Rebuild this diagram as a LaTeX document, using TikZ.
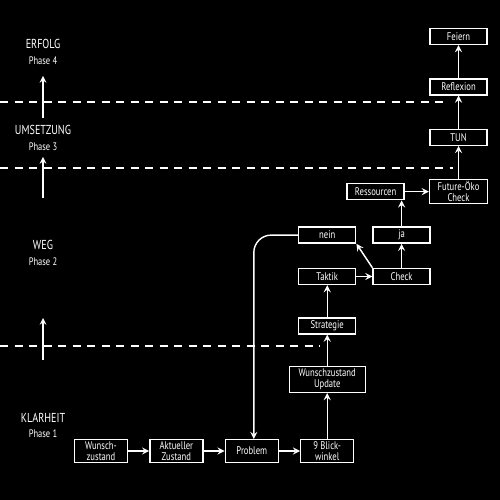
\documentclass[tikz,border=0pt]{standalone}
\usepackage{fontspec}
\usepackage{xcolor}
\usetikzlibrary{arrows, positioning}
\newfontfamily\chalkfont[FakeStretch=0.78]{PT Sans}

\begin{document}
\begin{tikzpicture}[
    node distance=0.42cm,
    stepbox/.style={rectangle, draw=white, line width=0.8pt, text=white, font=\chalkfont\fontsize{6.3}{6.3}\selectfont, minimum width=1.14cm, minimum height=0.32cm, inner sep=1pt, align=center},
    pairbox/.style={stepbox, minimum width=1.06cm, minimum height=0.45cm},
    phase/.style={text=white, font=\chalkfont\fontsize{7.4}{9}\selectfont, align=center},
    arrow/.style={->, >=stealth, line width=0.8pt, white},
    phasearrow/.style={->, >=stealth, line width=0.7pt, white},
    divider/.style={white, line width=0.6pt, dash pattern=on 0.16cm off 0.13cm}
]

\fill[black] (0,0) rectangle (10,-10);
\useasboundingbox (0,0) rectangle (10,-10);

\node[phase] (erfolg) at (0.86,-1.04) {ERFOLG\\{\fontsize{6.2}{6.2}\selectfont Phase 4}};
\node[phase] (umsetzung) at (0.86,-2.76) {UMSETZUNG\\{\fontsize{6.2}{6.2}\selectfont Phase 3}};
\node[phase] (weg) at (0.86,-5.06) {WEG\\{\fontsize{6.2}{6.2}\selectfont Phase 2}};
\node[phase] (klarheit) at (0.86,-8.51) {KLARHEIT\\{\fontsize{6.2}{6.2}\selectfont Phase 1}};

\node[pairbox] (wunsch) at (2.02,-9.02) {Wunsch-\\zustand};
\node[pairbox, right=of wunsch] (aktuell) {Aktueller\\Zustand};
\node[pairbox, right=of aktuell] (problem) {Problem};
\node[pairbox, right=of problem] (blick) {9 Blick-\\winkel};
\node[stepbox, above=0.92cm of blick, minimum width=1.52cm, minimum height=0.52cm] (update) {Wunschzustand\\Update};
\node[stepbox, above=0.62cm of update] (strategie) {Strategie};
\node[stepbox, above=0.64cm of strategie] (taktik) {Taktik};
\node[stepbox, right=0.32cm of taktik] (check) {Check};
\node[stepbox, above=0.48cm of taktik] (nein) {nein};
\node[stepbox, above=0.48cm of check] (ja) {ja};
\node[stepbox, above=0.52cm of ja, xshift=-0.52cm] (ressourcen) {Ressourcen};
\node[stepbox, right=0.48cm of ressourcen, minimum width=1.16cm, minimum height=0.48cm] (future) {Future-Öko\\Check};
\node[stepbox, above=0.66cm of future] (tun) {TUN};
\node[stepbox, above=0.66cm of tun] (reflexion) {Reflexion};
\node[stepbox, above=0.66cm of reflexion] (feiern) {Feiern};

\coordinate (a1) at (0.86,-2.36); \coordinate (b1) at (0.86,-1.52);
\coordinate (a2) at (0.86,-3.96); \coordinate (b2) at (0.86,-3.14);
\coordinate (a3) at (0.86,-7.20); \coordinate (b3) at (0.86,-6.36);
\draw[phasearrow] (a1) -- (b1);
\draw[phasearrow] (a2) -- (b2);
\draw[phasearrow] (a3) -- (b3);

\coordinate (l1) at (0,-2.04); \coordinate (r1) at (8.9,-2.04);
\coordinate (l2) at (0,-3.36); \coordinate (r2) at (9.06,-3.36);
\coordinate (l3) at (0,-6.92); \coordinate (r3) at (6.4,-6.92);
\draw[divider] (l1) -- (r1);
\draw[divider] (l2) -- (r2);
\draw[divider] (l3) -- (r3);

\draw[arrow] (wunsch) -- (aktuell);
\draw[arrow] (aktuell) -- (problem);
\draw[arrow] (problem) -- (blick);
\draw[arrow] (blick) -- (update);
\draw[arrow] (update) -- (strategie);
\draw[arrow] (strategie) -- (taktik);
\draw[arrow] (taktik) -- (check);
\draw[arrow] (check) -- (ja);
\draw[arrow] (check.north west) -- (nein.south east);
\draw[arrow, rounded corners=0.35cm] (nein.west) -| ([xshift=0.04cm]problem.north);
\draw[arrow] (ja) -- (ja.north |- ressourcen.south);
\draw[arrow] (ressourcen.east) -- (ressourcen.east -| future.west);
\draw[arrow] (future) -- (tun);
\draw[arrow] (tun) -- (reflexion);
\draw[arrow] (reflexion) -- (feiern);

\end{tikzpicture}
\end{document}
